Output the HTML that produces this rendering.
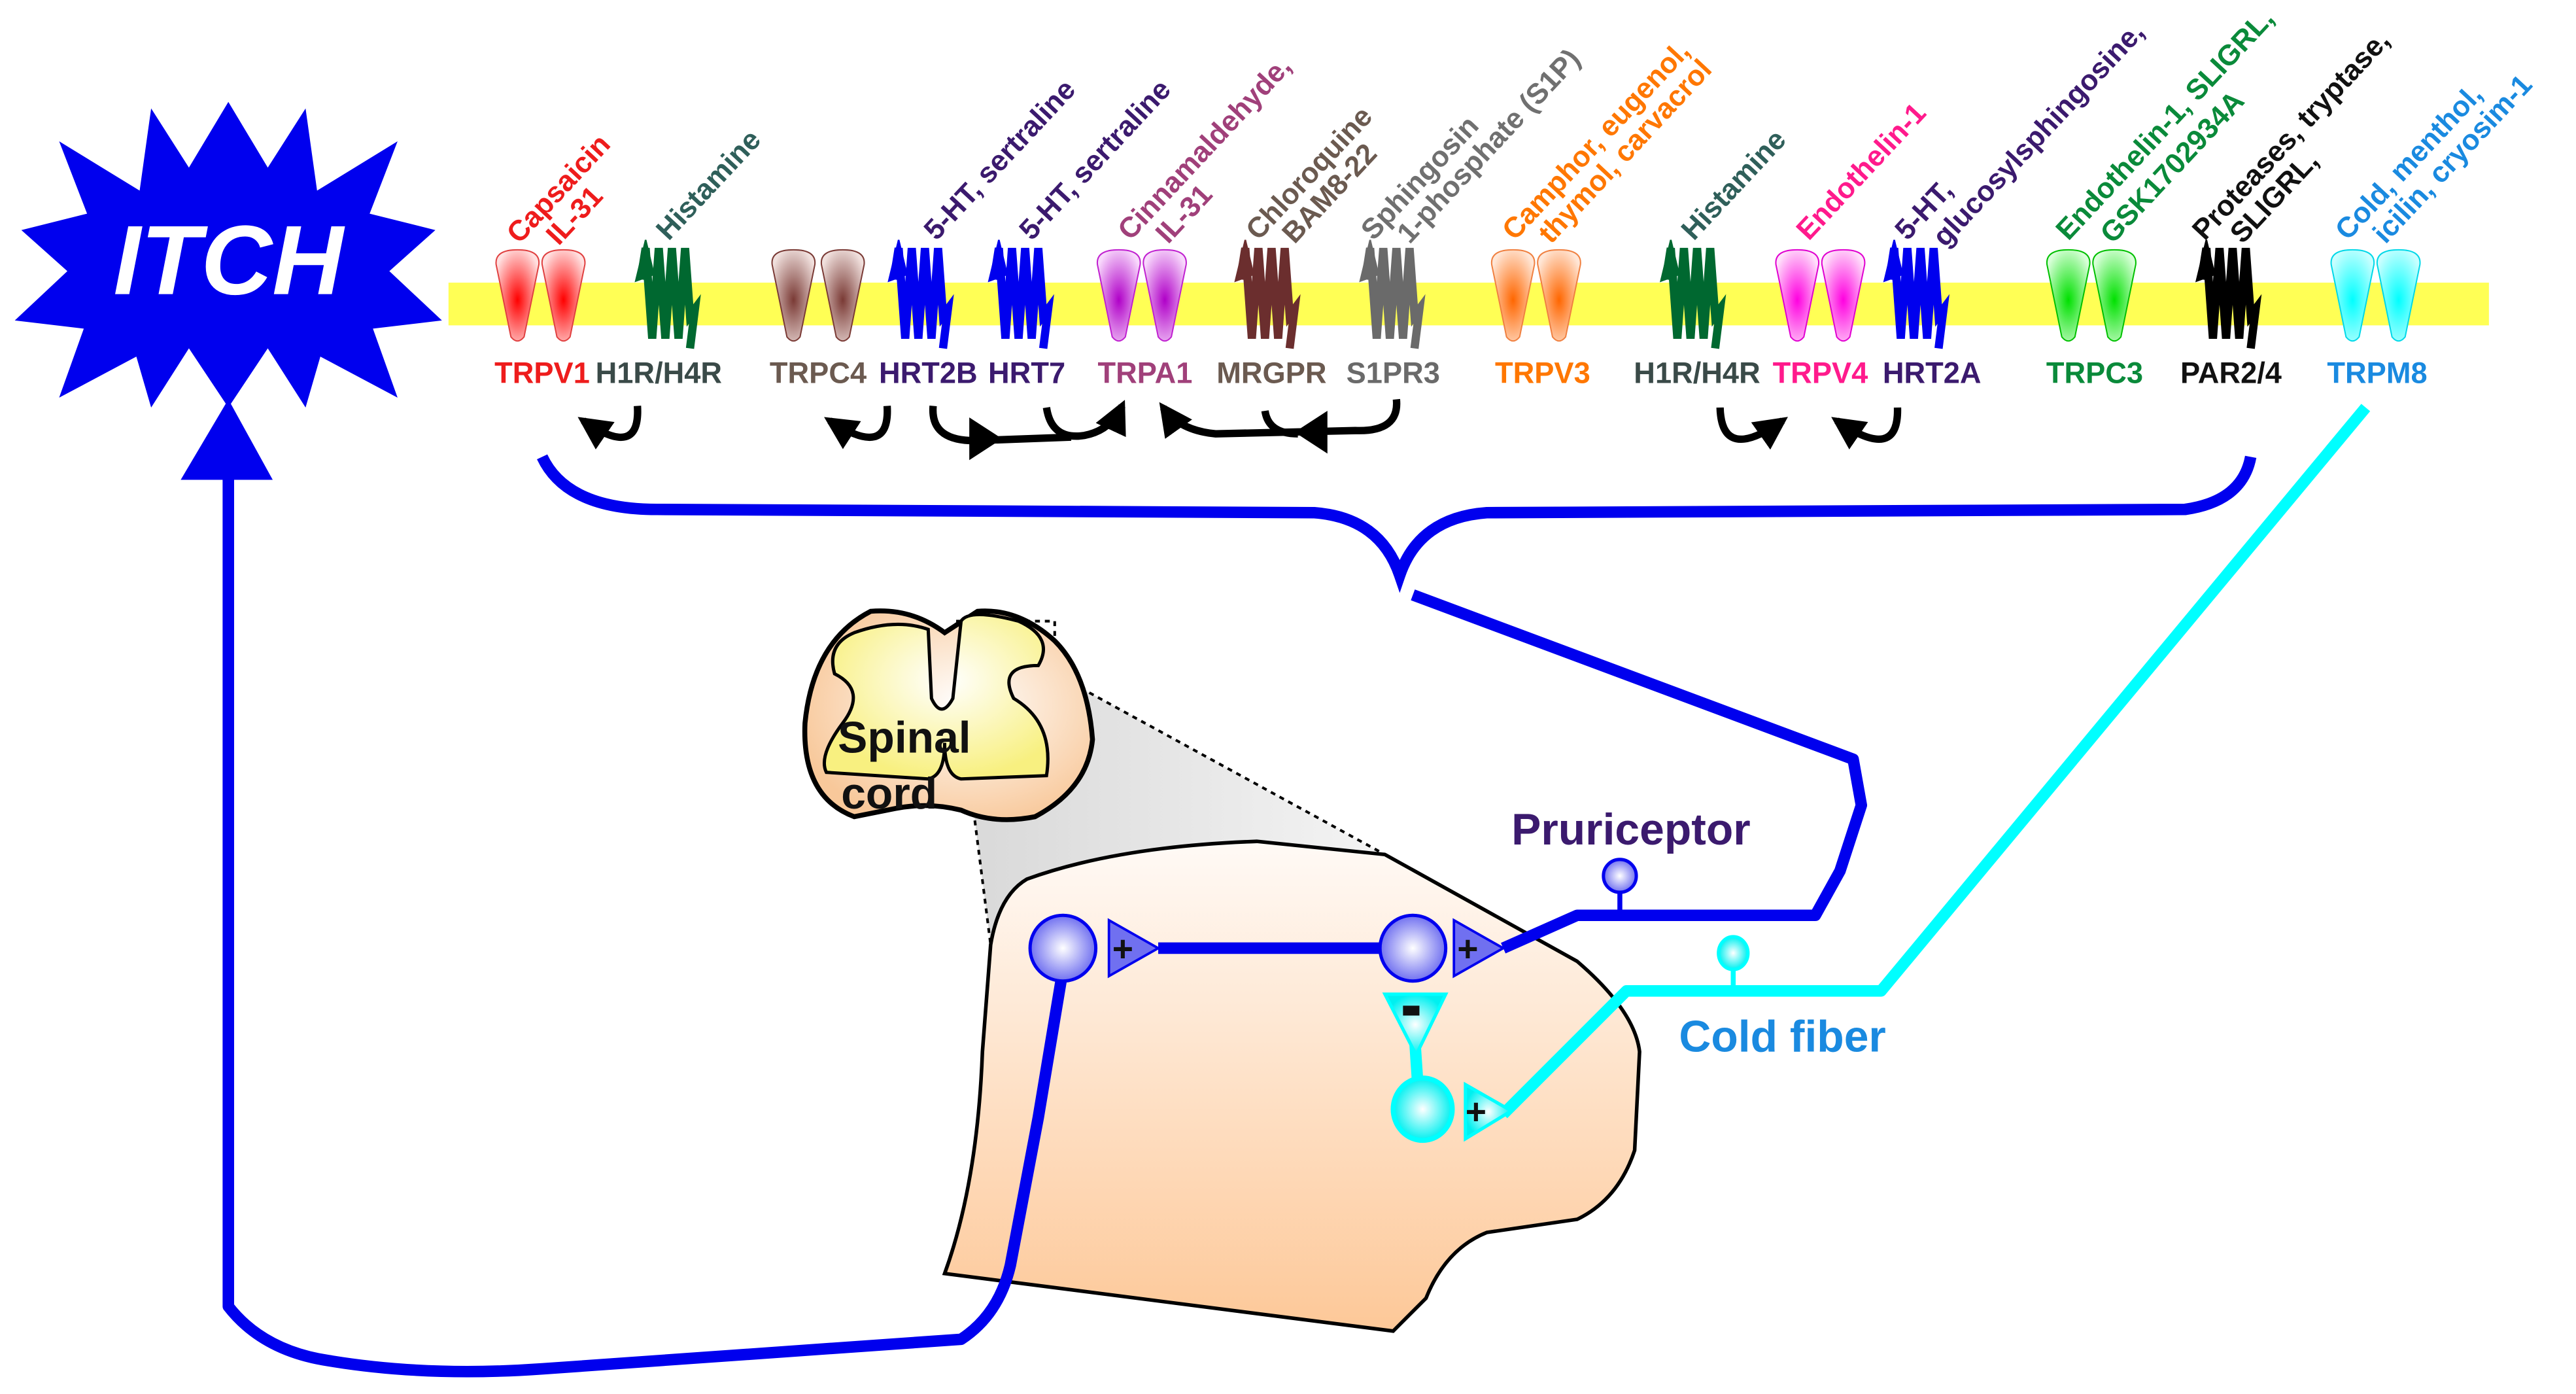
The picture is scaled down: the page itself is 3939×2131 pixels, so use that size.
<!DOCTYPE html>
<html><head><meta charset="utf-8"><style>
html,body{margin:0;padding:0;background:#fff;}
svg{display:block;}
text{font-family:"Liberation Sans",sans-serif;font-weight:bold;}
</style></head><body>
<svg width="3939" height="2131" viewBox="0 0 1568 848.3" preserveAspectRatio="none" xmlns="http://www.w3.org/2000/svg">
<defs>
<radialGradient id="gr" cx=".5" cy=".55" r=".6"><stop offset="0" stop-color="#ff0000"/><stop offset="1" stop-color="#ffe0e0"/></radialGradient>
<radialGradient id="gb" cx=".5" cy=".55" r=".6"><stop offset="0" stop-color="#7a3a35"/><stop offset="1" stop-color="#f0e0dd"/></radialGradient>
<radialGradient id="gp" cx=".5" cy=".55" r=".6"><stop offset="0" stop-color="#b000c8"/><stop offset="1" stop-color="#f8d8fc"/></radialGradient>
<radialGradient id="go" cx=".5" cy=".55" r=".6"><stop offset="0" stop-color="#ff6600"/><stop offset="1" stop-color="#ffe6d6"/></radialGradient>
<radialGradient id="gm" cx=".5" cy=".55" r=".6"><stop offset="0" stop-color="#ff00e0"/><stop offset="1" stop-color="#ffe0fb"/></radialGradient>
<radialGradient id="gg" cx=".5" cy=".55" r=".6"><stop offset="0" stop-color="#00e000"/><stop offset="1" stop-color="#d8ffd8"/></radialGradient>
<radialGradient id="gc" cx=".5" cy=".55" r=".6"><stop offset="0" stop-color="#00ffff"/><stop offset="1" stop-color="#c8ffff"/></radialGradient>
<radialGradient id="nb" cx=".5" cy=".5" r=".5"><stop offset="0" stop-color="#ffffff"/><stop offset="1" stop-color="#7070f0"/></radialGradient>
<radialGradient id="nc" cx=".5" cy=".5" r=".5"><stop offset="0" stop-color="#ffffff"/><stop offset="1" stop-color="#00f0f0"/></radialGradient>
<radialGradient id="sc" cx=".55" cy=".45" r=".6"><stop offset="0" stop-color="#ffffff"/><stop offset="1" stop-color="#f8c89a"/></radialGradient>
<radialGradient id="gm2" cx=".55" cy=".4" r=".6"><stop offset="0" stop-color="#ffffff"/><stop offset="1" stop-color="#f8f080"/></radialGradient>
<linearGradient id="horn" x1="0" y1="0" x2="0" y2="1"><stop offset="0" stop-color="#fffaf6"/><stop offset="1" stop-color="#fdc898"/></linearGradient>
<linearGradient id="funnel" x1="0" y1="0" x2="1" y2="0"><stop offset="0" stop-color="#d8d8d8"/><stop offset="1" stop-color="#f4f4f4"/></linearGradient>
<path id="ch" d="M-13,9 Q-14,0 0,0 Q14,0 13,9 L4,53 Q0,58 -4,53 Z"/>
<g id="gpcr"><polyline points="2,22 5,3 9,58 13,3 17,58 21,3 25,58 29,3 32,44 35,40 32,64" fill="none" stroke-width="5" stroke-linejoin="miter"/><polygon points="5,-2 -1,23 10,19"/></g>
<marker id="ah" viewBox="0 0 10 10" refX="8" refY="5" markerWidth="4.5" markerHeight="4.5" orient="auto"><path d="M0,0 L10,5 L0,10 z" fill="#000"/></marker>
</defs>

<!-- ITCH star -->
<polygon fill="#0000ee" points="139,62 163,102 186,66 193,116 242,86 225,130 265,140 237,165 269,195 227,200 242,242 195,217 186,248 163,212 139,248 115,212 92,248 83,217 36,242 51,200 9,195 41,165 13,140 53,130 36,86 85,116 92,66 115,102"/>
<text x="139" y="179" font-size="60" font-style="italic" fill="#fff" text-anchor="middle">ITCH</text>
<polygon fill="#0000ee" points="139,243 110,292 166,292"/>

<!-- membrane -->
<rect x="273" y="172" width="1242" height="26" fill="#ffff55"/>

<!-- channels -->
<g stroke-width="0.8">
<use href="#ch" x="315" y="152" fill="url(#gr)" stroke="#e04040"/><use href="#ch" x="343" y="152" fill="url(#gr)" stroke="#e04040"/>
<use href="#ch" x="483" y="152" fill="url(#gb)" stroke="#7a3a35"/><use href="#ch" x="513" y="152" fill="url(#gb)" stroke="#7a3a35"/>
<use href="#ch" x="681" y="152" fill="url(#gp)" stroke="#c020d0"/><use href="#ch" x="709" y="152" fill="url(#gp)" stroke="#c020d0"/>
<use href="#ch" x="921" y="152" fill="url(#go)" stroke="#f08040"/><use href="#ch" x="949" y="152" fill="url(#go)" stroke="#f08040"/>
<use href="#ch" x="1094" y="152" fill="url(#gm)" stroke="#e000d0"/><use href="#ch" x="1122" y="152" fill="url(#gm)" stroke="#e000d0"/>
<use href="#ch" x="1259" y="152" fill="url(#gg)" stroke="#00c000"/><use href="#ch" x="1287" y="152" fill="url(#gg)" stroke="#00c000"/>
<use href="#ch" x="1432" y="152" fill="url(#gc)" stroke="#00d8e8"/><use href="#ch" x="1460" y="152" fill="url(#gc)" stroke="#00d8e8"/>
</g>
<!-- GPCRs -->
<use href="#gpcr" x="388" y="148" fill="#006830" stroke="#006830"/>
<use href="#gpcr" x="542" y="148" fill="#0000ee" stroke="#0000ee"/>
<use href="#gpcr" x="603" y="148" fill="#0000ee" stroke="#0000ee"/>
<use href="#gpcr" x="753" y="148" fill="#6b2e2e" stroke="#6b2e2e"/>
<use href="#gpcr" x="829" y="148" fill="#6a6a6a" stroke="#6a6a6a"/>
<use href="#gpcr" x="1012" y="148" fill="#006830" stroke="#006830"/>
<use href="#gpcr" x="1148" y="148" fill="#0000ee" stroke="#0000ee"/>
<use href="#gpcr" x="1338" y="148" fill="#000" stroke="#000"/>

<!-- bottom labels -->
<g font-size="18" text-anchor="middle">
<text x="330" y="233" fill="#ee1c1c">TRPV1</text>
<text x="401" y="233" fill="#3a4a48">H1R/H4R</text>
<text x="498" y="233" fill="#6b5a50">TRPC4</text>
<text x="565" y="233" fill="#3b1a6e">HRT2B</text>
<text x="625" y="233" fill="#3b1a6e">HRT7</text>
<text x="697" y="233" fill="#a0407a">TRPA1</text>
<text x="774" y="233" fill="#6b5a50">MRGPR</text>
<text x="848" y="233" fill="#6a6a6a">S1PR3</text>
<text x="939" y="233" fill="#ff7700">TRPV3</text>
<text x="1033" y="233" fill="#3a4a48">H1R/H4R</text>
<text x="1108" y="233" fill="#ff1a8c">TRPV4</text>
<text x="1176" y="233" fill="#3b1a6e">HRT2A</text>
<text x="1275" y="233" fill="#0a8a3a">TRPC3</text>
<text x="1358" y="233" fill="#111">PAR2/4</text>
<text x="1447" y="233" fill="#1a8ae0">TRPM8</text>
</g>

<!-- rotated labels -->
<g font-size="17.5">
<text transform="translate(316,149) rotate(-47)" fill="#ee1c1c">Capsaicin</text>
<text transform="translate(340,150) rotate(-47)" fill="#ee1c1c">IL-31</text>
<text transform="translate(407,147) rotate(-47)" fill="#2f5f5a">Histamine</text>
<text transform="translate(570,147) rotate(-47)" fill="#3b1a6e">5-HT, sertraline</text>
<text transform="translate(628,147) rotate(-47)" fill="#3b1a6e">5-HT, sertraline</text>
<text transform="translate(688,147) rotate(-47)" fill="#a0407a">Cinnamaldehyde,</text>
<text transform="translate(711,149) rotate(-47)" fill="#a0407a">IL-31</text>
<text transform="translate(766,147) rotate(-47)" fill="#6b5a50">Chloroquine</text>
<text transform="translate(788,149) rotate(-47)" fill="#6b5a50">BAM8-22</text>
<text transform="translate(836,147) rotate(-47)" fill="#707070">Sphingosin</text>
<text transform="translate(858,149) rotate(-47)" fill="#707070">1-phosphate (S1P)</text>
<text transform="translate(922,147) rotate(-47)" fill="#ff7700">Camphor, eugenol,</text>
<text transform="translate(944,149) rotate(-47)" fill="#ff7700">thymol, carvacrol</text>
<text transform="translate(1031,147) rotate(-47)" fill="#2f5f5a">Histamine</text>
<text transform="translate(1101,147) rotate(-47)" fill="#ff1a8c">Endothelin-1</text>
<text transform="translate(1161,147) rotate(-47)" fill="#3b1a6e">5-HT,</text>
<text transform="translate(1184,151) rotate(-47)" fill="#3b1a6e">glucosylsphingosine,</text>
<text transform="translate(1259,147) rotate(-47)" fill="#0a8a3a">Endothelin-1, SLIGRL,</text>
<text transform="translate(1286,149) rotate(-47)" fill="#0a8a3a">GSK1702934A</text>
<text transform="translate(1342,147) rotate(-47)" fill="#111">Proteases, tryptase,</text>
<text transform="translate(1365,149) rotate(-47)" fill="#111">SLIGRL,</text>
<text transform="translate(1429,147) rotate(-47)" fill="#1a8ae0">Cold, menthol,</text>
<text transform="translate(1452,149) rotate(-47)" fill="#1a8ae0">icilin, cryosim-1</text>
</g>

<!-- curved black arrows -->
<g fill="none" stroke="#000" stroke-width="4.5">
<path d="M388,247 Q390,280 355,256" marker-end="url(#ah)"/>
<path d="M540,247 Q542,280 505,256" marker-end="url(#ah)"/>
<path d="M568,247 Q566,270 598,268 L652,266"/>
<path d="M637,248 Q640,268 660,265 Q676,262 683,247" marker-end="url(#ah)"/>
<path d="M850,243 Q852,263 825,262 L740,264 Q718,262 708,248" marker-end="url(#ah)"/>
<path d="M770,250 Q772,264 790,264"/>
<path d="M1047,248 Q1048,282 1085,256" marker-end="url(#ah)"/>
<path d="M1155,248 Q1156,282 1118,256" marker-end="url(#ah)"/>
</g>
<polygon points="590,254 590,280 610,267" fill="#000"/>
<polygon points="808,250 808,276 788,263" fill="#000"/>

<!-- brace -->
<path d="M330,278 Q345,310 400,310 L800,312 Q840,315 852,350 Q864,315 905,312 L1330,310 Q1365,305 1370,278" fill="none" stroke="#0000ee" stroke-width="7"/>

<!-- funnel -->
<polygon points="582,410 642,410 843,520 765,512 650,530 615,545 603,575" fill="url(#funnel)"/>
<!-- dorsal horn -->
<path d="M603,575 Q608,545 625,535 Q680,515 765,512 L843,520 L960,585 Q995,615 998,640 L995,700 Q985,730 960,742 L905,750 Q880,760 868,790 L848,810 L575,775 Q595,720 598,640 Z" fill="url(#horn)" stroke="#000" stroke-width="2.2"/>
<!-- dashed lines -->
<g fill="none" stroke="#000" stroke-width="1.6" stroke-dasharray="3,3">
<rect x="582" y="378" width="60" height="32"/>
<line x1="582" y1="410" x2="603" y2="575"/>
<line x1="642" y1="410" x2="843" y2="520"/>
</g>
<!-- spinal cord -->
<path d="M575,385 Q555,370 530,372 Q495,390 490,440 Q488,485 520,497 L545,492 Q565,488 585,493 Q605,502 630,497 Q662,480 665,450 Q662,410 642,390 Q620,370 595,372 Z" fill="url(#sc)" stroke="#000" stroke-width="3"/>
<path d="M520,385 Q503,392 508,410 Q528,420 513,440 Q498,460 503,470 L565,474 Q575,472 575,452 Q575,472 585,474 L637,472 Q642,440 617,425 Q607,405 632,405 Q642,388 620,378 Q590,370 585,378 L580,425 Q573,438 567,425 L565,383 Q545,376 520,385 Z" fill="url(#gm2)" stroke="#000" stroke-width="2"/>
<text x="510" y="458" font-size="27" fill="#111">Spinal</text>
<text x="512" y="492" font-size="27" fill="#111">cord</text>

<!-- blue lines -->
<g fill="none" stroke="#0000ee" stroke-width="7" stroke-linejoin="round">
<path d="M139,292 L139,795 Q160,822 200,828 Q260,838 330,833 L585,815 Q608,800 615,770 L632,680 L647,590"/>
<path d="M860,362 L1128,462 L1133,490 L1120,530 L1105,557 L960,557 L915,577"/>
<line x1="705" y1="577" x2="840" y2="577"/>
</g>
<line x1="986" y1="540" x2="986" y2="557" stroke="#0000ee" stroke-width="3"/>
<ellipse cx="986" cy="533" rx="10" ry="10" fill="url(#nb)" stroke="#0000ee" stroke-width="2"/>
<text x="920" y="514" font-size="27" fill="#3b1a6e">Pruriceptor</text>

<!-- cyan -->
<g fill="none" stroke="#00ffff" stroke-width="7" stroke-linejoin="round">
<path d="M1440,248 L1145,603 L990,603 L915,678"/>
<path d="M861,630 L863,660"/>
</g>
<line x1="1055" y1="588" x2="1055" y2="603" stroke="#00ffff" stroke-width="3"/>
<ellipse cx="1055" cy="580" rx="9" ry="10" fill="url(#nc)" stroke="#00ffff" stroke-width="2"/>
<text x="1022" y="640" font-size="27" fill="#1a8ae0">Cold fiber</text>

<!-- neurons -->
<ellipse cx="647" cy="577" rx="20" ry="20" fill="url(#nb)" stroke="#0000ee" stroke-width="2"/>
<polygon points="675,560 675,594 705,577" fill="#7070f0" stroke="#0000ee" stroke-width="1.5"/>
<text x="677" y="585" font-size="22" fill="#111">+</text>
<ellipse cx="860" cy="577" rx="20" ry="20" fill="url(#nb)" stroke="#0000ee" stroke-width="2"/>
<polygon points="885,560 885,594 915,577" fill="#7070f0" stroke="#0000ee" stroke-width="1.5"/>
<text x="887" y="585" font-size="22" fill="#111">+</text>
<polygon points="843,605 880,605 862,642" fill="url(#nc)" stroke="#00ffff" stroke-width="2"/>
<rect x="854" y="612" width="10" height="6" fill="#111"/>
<ellipse cx="866" cy="675" rx="18" ry="19" fill="url(#nc)" stroke="#00ffff" stroke-width="3"/>
<polygon points="892,660 892,693 920,676" fill="url(#nc)" stroke="#00ffff" stroke-width="2"/>
<text x="892" y="684" font-size="22" fill="#111">+</text>
</svg>
</body></html>
